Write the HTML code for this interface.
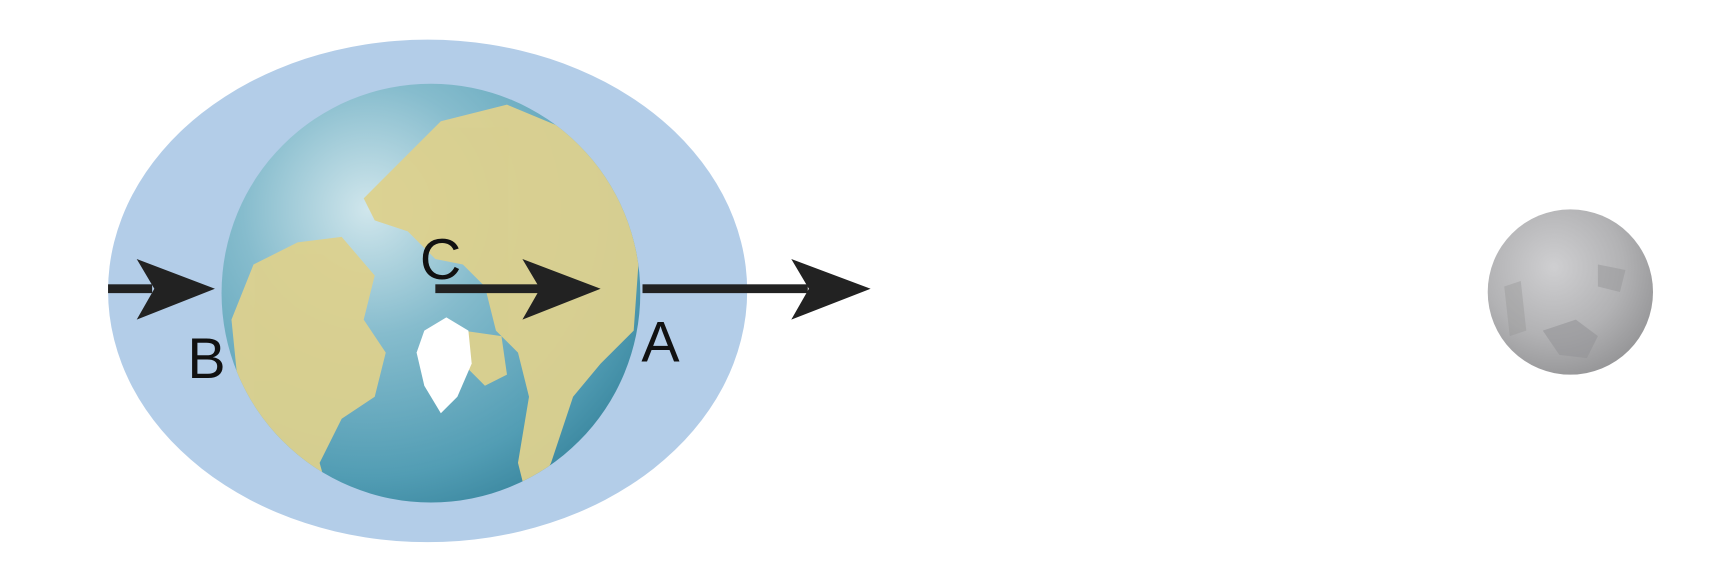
<!DOCTYPE html>
<html><head><meta charset="utf-8"><style>
html,body{margin:0;padding:0;background:#fff;width:1728px;height:576px;overflow:hidden}
text{font-family:"Liberation Sans",sans-serif}
</style></head><body>
<svg width="1728" height="576" viewBox="0 0 1568 522.7">
<defs>
<radialGradient id="ocean" cx="0.35" cy="0.3" r="0.75">
<stop offset="0" stop-color="#d0e6ec"/><stop offset="0.4" stop-color="#86bccd"/><stop offset="0.85" stop-color="#529db4"/><stop offset="1" stop-color="#3f8ba3"/>
</radialGradient>
<radialGradient id="moon" cx="0.4" cy="0.35" r="0.7">
<stop offset="0" stop-color="#cfcfd1"/><stop offset="0.6" stop-color="#b2b2b4"/><stop offset="1" stop-color="#949496"/>
</radialGradient>
<clipPath id="ec"><circle cx="391" cy="266" r="190"/></clipPath>
</defs>
<ellipse cx="388" cy="264" rx="290" ry="228" fill="#b3cde8"/>
<g>
<circle cx="391" cy="266" r="190" fill="url(#ocean)"/>
<g clip-path="url(#ec)" fill="#ddd18e" opacity="0.95">
<path d="M360 150 L400 110 L460 95 L520 120 L560 170 L580 230 L575 300 L545 330 L520 360 L500 420 L480 460 L470 420 L480 360 L470 320 L450 300 L440 260 L420 240 L395 235 L370 210 L340 200 L330 180 Z"/>
<path d="M230 240 L270 220 L310 215 L340 250 L330 290 L350 320 L340 360 L310 380 L290 420 L300 456 L260 440 L230 400 L215 340 L210 290 Z"/>
<path d="M420 300 L455 305 L460 340 L440 350 L420 330 Z"/>
</g>
<path d="M385 300 L405 288 L425 300 L428 330 L415 360 L400 375 L385 350 L378 320 Z" fill="#ffffff"/>
</g>
<g>
<rect x="98" y="258" width="40" height="8" fill="#222"/>
<polygon points="124,235 195,262 124,290 140,262" fill="#222"/>
</g>
<g>
<rect x="395" y="258" width="95" height="8" fill="#222"/>
<polygon points="474,235 545,262 474,290 490,262" fill="#222"/>
</g>
<g>
<rect x="583" y="258" width="150" height="8" fill="#222"/>
<polygon points="718,235 790,262 718,290 734,262" fill="#222"/>
</g>
<text x="170" y="343" font-size="52" fill="#111">B</text>
<text x="381" y="253" font-size="52" fill="#111">C</text>
<text x="582" y="328" font-size="52" fill="#111">A</text>
<g>
<circle cx="1425" cy="265" r="75" fill="url(#moon)"/>
<path d="M1400 300 L1430 290 L1450 305 L1440 325 L1415 322 Z" fill="#959597" opacity="0.6"/>
<path d="M1450 240 L1475 245 L1470 265 L1450 260 Z" fill="#959597" opacity="0.5"/>
<path d="M1365 260 L1380 255 L1385 300 L1370 305 Z" fill="#959597" opacity="0.4"/>
</g>
</svg>
</body></html>
